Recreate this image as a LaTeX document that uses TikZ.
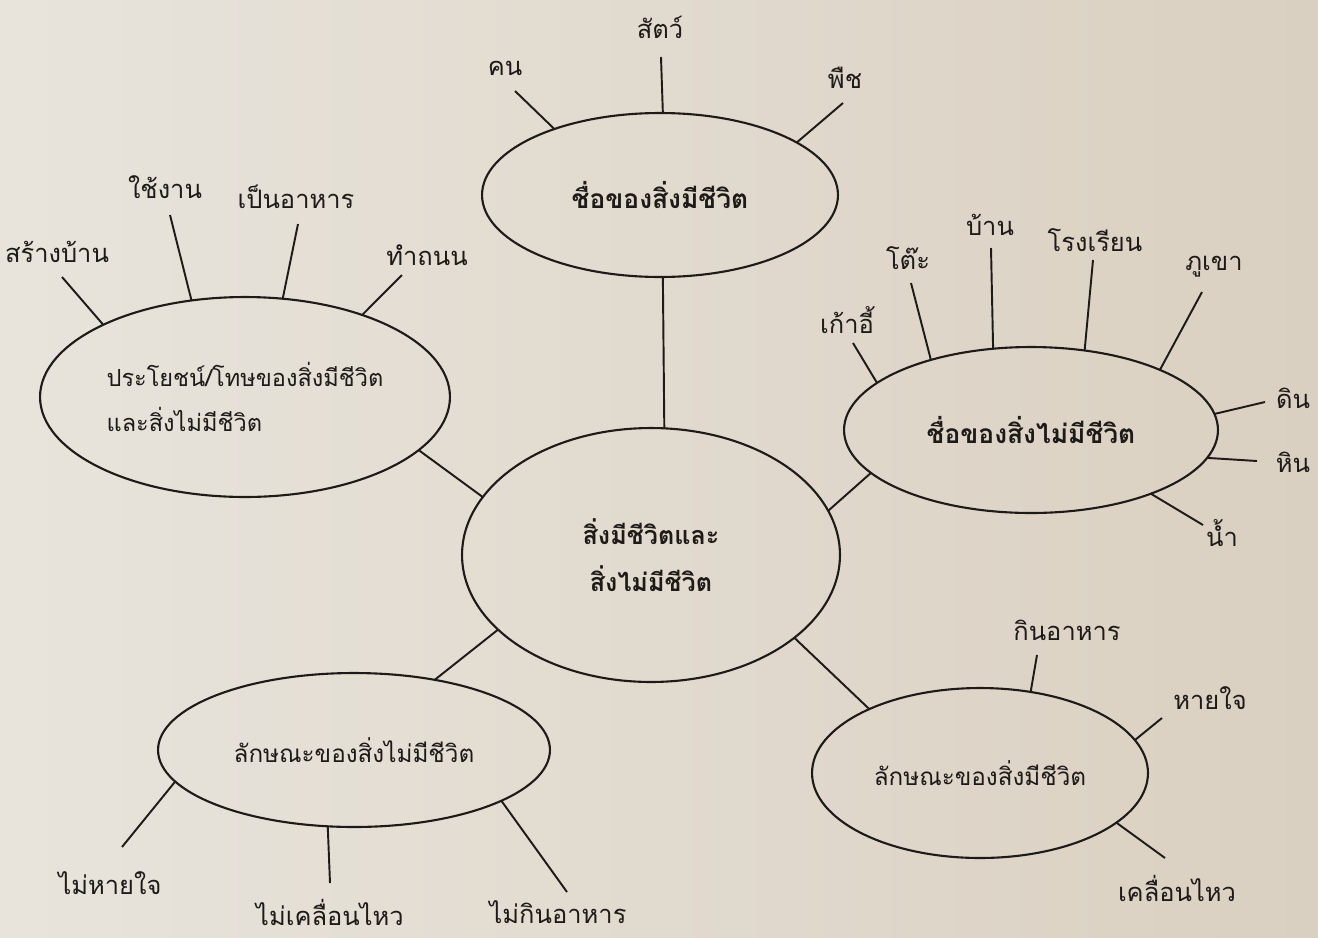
\documentclass[tikz,border=0pt]{standalone}
\usepackage{fontspec}
\setmainfont[Script=Thai]{Loma}
\usetikzlibrary{shapes.geometric}
\definecolor{paperL}{RGB}{232,228,220}
\definecolor{paperR}{RGB}{218,208,193}
\definecolor{ink}{RGB}{30,26,24}

\begin{document}
\begin{tikzpicture}[x=0.02cm,y=-0.02cm,
  topic/.style={draw=ink,ellipse,line width=1.2pt,inner sep=0pt,outer sep=0pt,text=ink,font=\fontsize{13.8}{26}\selectfont},
  leaf/.style={text=ink,inner sep=1pt,font=\fontsize{14.5}{18}\selectfont},
  spoke/.style={draw=ink,line width=1.1pt}]
\shade[left color=paperL,right color=paperR] (0,0) rectangle (1318,937);

% topics
\node[topic,minimum width=7.56cm,minimum height=5.08cm,align=center,font=\fontsize{14.3}{27}\selectfont\bfseries] (main) at (651,555) {สิ่งมีชีวิตและ\\สิ่งไม่มีชีวิต};
\node[topic,minimum width=7.12cm,minimum height=3.28cm,font=\fontsize{15}{18}\selectfont\bfseries] (names) at (660,195) {ชื่อของสิ่งมีชีวิต};
\node[topic,minimum width=8.2cm,minimum height=4.0cm,align=left,font=\fontsize{13.4}{26}\selectfont] (use) at (245,397) {ประโยชน์/โทษของสิ่งมีชีวิต\\และสิ่งไม่มีชีวิต};
\node[topic,minimum width=7.48cm,minimum height=3.32cm,font=\fontsize{15}{18}\selectfont\bfseries] (things) at (1031,430) {ชื่อของสิ่งไม่มีชีวิต};
\node[topic,minimum width=7.84cm,minimum height=3.08cm] (nonlife) at (354,750) {ลักษณะของสิ่งไม่มีชีวิต};
\node[topic,minimum width=6.72cm,minimum height=3.4cm] (life) at (980,773) {ลักษณะของสิ่งมีชีวิต};

\draw[spoke] (main.84.6) -- (names.-88);
\draw[spoke] (main.161) -- (use.-17.2);
\draw[spoke] (main.14.5) -- (things.195.7);
\draw[spoke] (main.206.9) -- (nonlife.41.9);
\draw[spoke] (main.-30.8) -- (life.150.9);

%---------------------------------
% names of living things
\node[leaf] (kon) at (505,68) {คน};
\node[leaf] (sat) at (660,27) {สัตว์};
\node[leaf] (puet) at (845,78) {พืช};
\coordinate (konE) at (515,91);
\coordinate (satE) at (661,57);
\coordinate (puetE) at (843,103);
\draw[spoke] (names.148.5) -- (konE);
\draw[spoke] (names.88) -- (satE);
\draw[spoke] (names.21.9) -- (puetE);

%---------------------------------
% uses and harms
\node[leaf] (build) at (57,252) {สร้างบ้าน};
\node[leaf] (tool) at (165,187) {ใช้งาน};
\node[leaf] (food) at (296,197) {เป็นอาหาร};
\node[leaf] (road) at (427,255) {ทำถนน};
\coordinate (buildE) at (62,277);
\coordinate (toolE) at (170,215);
\coordinate (foodE) at (298,224);
\coordinate (roadE) at (402,275);
\draw[spoke] (use.153.7) -- (buildE);
\draw[spoke] (use.119.9) -- (toolE);
\draw[spoke] (use.69) -- (foodE);
\draw[spoke] (use.35.2) -- (roadE);

%---------------------------------
% names of non-living things
\node[leaf] (chair) at (847,320) {เก้าอี้};
\node[leaf] (table) at (908,258) {โต๊ะ};
\node[leaf] (house) at (990,225) {บ้าน};
\node[leaf] (school) at (1095,240) {โรงเรียน};
\node[leaf] (hill) at (1214,267) {ภูเขา};
\node[leaf] (soil) at (1293,398) {ดิน};
\node[leaf] (rock) at (1293,462) {หิน};
\node[leaf] (water) at (1222,533) {น้ำ};
\coordinate (chairE) at (853,343);
\coordinate (tableE) at (911,283);
\coordinate (houseE) at (991,248);
\coordinate (schoolE) at (1093,260);
\coordinate (hillE) at (1202,292);
\coordinate (soilE) at (1265,402);
\coordinate (rockE) at (1257,461);
\coordinate (waterE) at (1203,525);
\draw[spoke] (things.163.9) -- (chairE);
\draw[spoke] (things.145.9) -- (tableE);
\draw[spoke] (things.115.2) -- (houseE);
\draw[spoke] (things.56.5) -- (schoolE);
\draw[spoke] (things.25.8) -- (hillE);
\draw[spoke] (things.5.3) -- (soilE);
\draw[spoke] (things.-9.7) -- (rockE);
\draw[spoke] (things.-28.2) -- (waterE);

%---------------------------------
% non-living features
\node[leaf] (nobreath) at (110,883) {ไม่หายใจ};
\node[leaf] (nomove) at (330,912) {ไม่เคลื่อนไหว};
\node[leaf] (noeat) at (558,912) {ไม่กินอาหาร};
\coordinate (nobreathE) at (122,847);
\coordinate (nomoveE) at (330,883);
\coordinate (noeatE) at (567,892);
\draw[spoke] (nonlife.190.7) -- (nobreathE);
\draw[spoke] (nonlife.251.8) -- (nomoveE);
\draw[spoke] (nonlife.-19.3) -- (noeatE);

%---------------------------------
% living features
\node[leaf] (eat) at (1067,630) {กินอาหาร};
\node[leaf] (breath) at (1210,698) {หายใจ};
\node[leaf] (move) at (1177,888) {เคลื่อนไหว};
\coordinate (eatE) at (1037,655);
\coordinate (breathE) at (1162,718);
\coordinate (moveE) at (1165,858);
\draw[spoke] (life.58.9) -- (eatE);
\draw[spoke] (life.12.6) -- (breathE);
\draw[spoke] (life.-20.7) -- (moveE);
\end{tikzpicture}
\end{document}
